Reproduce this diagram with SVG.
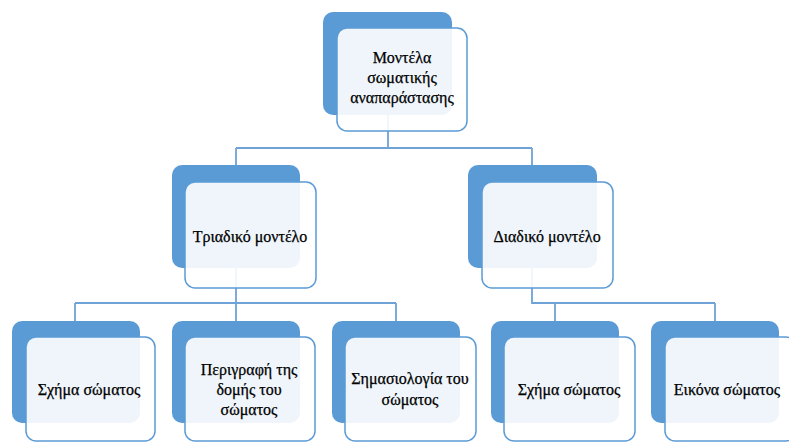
<svg xmlns="http://www.w3.org/2000/svg" width="789" height="442" viewBox="0 0 789 442">
<style>
.back{fill:#5B9BD5;}
.front{fill:#FFFFFF;fill-opacity:0.9;stroke:#5B9BD5;stroke-width:1.5;}
.conn{fill:none;stroke:#6FA3D8;stroke-width:1.8;}
text{font-family:"Liberation Serif","DejaVu Serif",serif;font-size:16px;fill:#000;stroke:#000;stroke-width:0.25;text-anchor:middle;}
</style>
<rect width="789" height="442" fill="#ffffff"/>
<g id="connectors">
<path class="conn" d="M388,115 V148 M236,148 H532 M236,148 V165 M532,148 V165"/>
<path class="conn" d="M236,268 V303 M75,303 H396 M75,303 V321 M236,303 V321 M396,303 V321"/>
<path class="conn" d="M532,268 V303 H715 M555,303 V321 M715,303 V321"/>
</g>
<g id="n-root">
<rect class="back" x="323" y="12" width="129" height="103" rx="10"/>
<rect class="front" x="337" y="28" width="130" height="103" rx="10"/>
<text x="402" y="63">Μοντέλα</text>
<text x="402" y="83">σωματικής</text>
<text x="402" y="103">αναπαράστασης</text>
</g>
<g id="n-triadiko">
<rect class="back" x="172" y="165" width="128" height="103" rx="10"/>
<rect class="front" x="185" y="182" width="131" height="106" rx="10"/>
<text x="250" y="242">Τριαδικό μοντέλο</text>
</g>
<g id="n-diadiko">
<rect class="back" x="468" y="165" width="129" height="103" rx="10"/>
<rect class="front" x="482" y="182" width="131" height="106" rx="10"/>
<text x="547" y="242">Διαδικό μοντέλο</text>
</g>
<g id="n-schima1">
<rect class="back" x="12" y="321" width="128" height="102" rx="10"/>
<rect class="front" x="26" y="337" width="129" height="104" rx="10"/>
<text x="89" y="395">Σχήμα σώματος</text>
</g>
<g id="n-perigrafi">
<rect class="back" x="172" y="321" width="128" height="102" rx="10"/>
<rect class="front" x="185" y="337" width="130" height="104" rx="10"/>
<text x="249" y="375">Περιγραφή της</text>
<text x="249" y="395">δομής του</text>
<text x="249" y="415">σώματος</text>
</g>
<g id="n-simasiologia">
<rect class="back" x="332" y="321" width="128" height="102" rx="10"/>
<rect class="front" x="345" y="337" width="131" height="104" rx="10"/>
<text x="410" y="384">Σημασιολογία του</text>
<text x="410" y="405">σώματος</text>
</g>
<g id="n-schima2">
<rect class="back" x="491" y="321" width="128" height="102" rx="10"/>
<rect class="front" x="504" y="337" width="131" height="104" rx="10"/>
<text x="569" y="395">Σχήμα σώματος</text>
</g>
<g id="n-eikona">
<rect class="back" x="651" y="321" width="128" height="102" rx="10"/>
<rect class="front" x="665" y="337" width="131" height="104" rx="10"/>
<text x="727" y="395">Εικόνα σώματος</text>
</g>
</svg>
